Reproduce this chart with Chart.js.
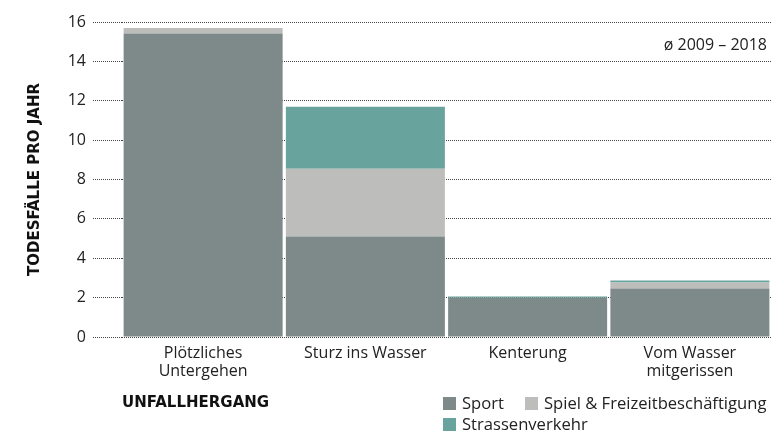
<!DOCTYPE html>
<html>
<head>
<meta charset="utf-8">
<script src="https://cdn.jsdelivr.net/npm/chart.js@4/dist/chart.umd.min.js"></script>
<style>
  html, body { margin: 0; padding: 0; background: #fff; }
  #wrap { position: relative; width: 773px; height: 435px; font-family: "Open Sans", sans-serif; color: #222; }
  canvas { position: absolute; left: 0; top: 0; }
  #period { position: absolute; right: 6px; top: 33px; font-size: 16px; line-height: 22px; }
  #legend { position: absolute; left: 443px; top: 392px; font-size: 16.6px; line-height: 21px; white-space: nowrap; }
  .item { display: inline-block; margin-right: 21px; white-space: nowrap; }
  .box { display: inline-block; width: 13px; height: 13px; vertical-align: -1px; margin-right: 6px; }
</style>
</head>
<body>
<div id="wrap">
  <canvas id="chart" width="773" height="435"></canvas>
  <div id="period">ø 2009 – 2018</div>
  <div id="legend"></div>
</div>
<script>
const categories = [["Plötzliches", "Untergehen"], "Sturz ins Wasser", "Kenterung", ["Vom Wasser", "mitgerissen"]];
const sport = [15.42, 5.1, 2.0, 2.46];
const spiel = [0.28, 3.45, 0, 0.31];
const strassen = [0, 3.15, 0.06, 0.1];
const seriesNames = ["Sport", "Spiel & Freizeitbeschäftigung", "Strassenverkehr"];
const colors = ["#7e8a89", "#bdbdbb", "#68a39d"];
const yTicks = [0, 2, 4, 6, 8, 10, 12, 14, 16];

const tickFont = { family: "Open Sans", size: 16, lineHeight: 1.1 };
const titleFont = { family: "DejaVu Sans", size: 15, weight: "bold" };

// legend as html, two items on the first row
const legend = document.getElementById("legend");
seriesNames.forEach(function (name, i) {
    const item = document.createElement("span");
    item.className = "item";
    item.innerHTML = '<span class="box" style="background:' + colors[i] + '"></span>' + name;
    legend.appendChild(item);
    if (i === 1) legend.appendChild(document.createElement("br"));
});

const ctx = document.getElementById("chart").getContext("2d");
new Chart(ctx, {
    type: "bar",
    data: {
        labels: categories,
        datasets: [sport, spiel, strassen].map(function (values, i) {
            return {
                label: seriesNames[i],
                data: values,
                backgroundColor: colors[i],
                borderWidth: 0,
                barPercentage: 1,
                categoryPercentage: 0.98
            };
        })
    },
    options: {
        responsive: false,
        animation: false,
        layout: { padding: { top: 22, right: 2, left: 0, bottom: 0 } },
        plugins: {
            legend: { display: false },
            tooltip: { enabled: false }
        },
        scales: {
            x: {
                stacked: true,
                grid: { display: false },
                border: { display: false },
                ticks: { color: "#222", font: tickFont, padding: 0, maxRotation: 0 },
                title: {
                    display: true,
                    text: "UNFALLHERGANG",
                    align: "start",
                    color: "#111",
                    font: titleFont,
                    padding: { top: 0, bottom: 23 }
                },
                afterFit: function (s) { s.height = 98; }
            },
            y: {
                stacked: true,
                min: 0,
                max: 16,
                z: 1,
                afterBuildTicks: function (s) {
                    s.ticks = yTicks.map(function (v) { return { value: v }; });
                },
                ticks: { color: "#222", font: tickFont, padding: 7 },
                grid: {
                    color: "#444",
                    lineWidth: 1,
                    tickLength: 29,
                    tickColor: "#444",
                    tickBorderDash: [1, 1]
                },
                border: { display: false, dash: [1, 1] },
                title: {
                    display: true,
                    text: "TODESFÄLLE PRO JAHR",
                    color: "#111",
                    font: titleFont,
                    padding: { top: 26, bottom: 0 }
                },
                afterFit: function (s) { s.width = 122; }
            }
        }
    }
});
</script>
</body>
</html>
